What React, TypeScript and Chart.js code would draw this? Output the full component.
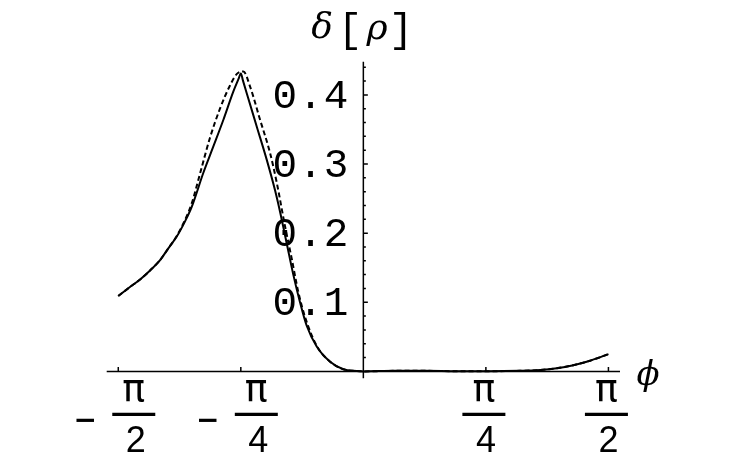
import { useEffect, useRef } from "react"
import { Chart, registerables } from "chart.js"

Chart.register(...registerables)

// curva continua
const solidPhi = [
  -1.571, -1.496, -1.431, -1.367, -1.303, -1.25, -1.196, -1.143, -1.1, -1.026, -0.962, -0.897,
  -0.833, -0.8, -0.785, -0.772, -0.747, -0.683, -0.619, -0.566, -0.534, -0.491, -0.449, -0.406,
  -0.363, -0.299, -0.213, -0.128, -0.042, 0, 0.2, 0.4, 0.6, 0.8, 1.0, 1.133, 1.24, 1.346, 1.453,
  1.571,
]
const solidDelta = [
  0.109, 0.122, 0.133, 0.146, 0.161, 0.178, 0.195, 0.217, 0.238, 0.287, 0.325, 0.364,
  0.405, 0.423, 0.431, 0.421, 0.402, 0.354, 0.306, 0.262, 0.231, 0.185, 0.14, 0.1,
  0.066, 0.036, 0.014, 0.003, 0.0006, 0, 0.0008, 0.0008, 0.0002, 0.0002, 0.0008, 0.002, 0.0045,
  0.009, 0.0155, 0.025,
]

// curva discontinua
const dashedPhi = [
  -1.571, -1.496, -1.431, -1.367, -1.303, -1.25, -1.196, -1.143, -1.1, -1.047, -0.983, -0.919,
  -0.854, -0.812, -0.769, -0.726, -0.662, -0.598, -0.555, -0.502, -0.459, -0.417, -0.374,
  -0.299, -0.213, -0.128, -0.042, 0, 0.2, 0.4, 0.6, 0.8, 1.0, 1.133, 1.24, 1.346, 1.453, 1.571,
]
const dashedDelta = [
  0.109, 0.122, 0.133, 0.146, 0.161, 0.178, 0.196, 0.219, 0.243, 0.286, 0.338, 0.38,
  0.414, 0.43, 0.434, 0.412, 0.364, 0.316, 0.273, 0.21, 0.163, 0.115, 0.079,
  0.037, 0.014, 0.003, 0.0006, 0, 0.0008, 0.0008, 0.0002, 0.0002, 0.0008, 0.002, 0.0045, 0.009,
  0.0155, 0.025,
]

const yMajorTicks = [0.1, 0.2, 0.3, 0.4]
const yTickLabels = ["0.1", "0.2", "0.3", "0.4"]
const yMinorTicks = [
  0.02, 0.04, 0.06, 0.08, 0.12, 0.14, 0.16, 0.18, 0.22, 0.24, 0.26, 0.28,
  0.32, 0.34, 0.36, 0.38, 0.42, 0.44,
]
const xTicks = [-Math.PI / 2, -Math.PI / 4, Math.PI / 4, Math.PI / 2]
const xTickSigns = ["−", "−", "", ""]
const xTickNumerators = ["π", "π", "π", "π"]
const xTickDenominators = ["2", "4", "4", "2"]

const xAxisLabel = "ϕ"
const titleParts = ["δ", "[", "ρ", "]"]

const mathAxes = {
  id: "mathAxes",
  beforeDatasetsDraw(chart: any) {
    const { ctx, chartArea: a, scales } = chart
    const x0 = scales.x.getPixelForValue(0)
    const y0 = scales.y.getPixelForValue(0)
    ctx.save()
    ctx.strokeStyle = "#000"
    ctx.lineWidth = 1.5
    ctx.beginPath()
    ctx.moveTo(a.left, y0)
    ctx.lineTo(a.right, y0)
    ctx.moveTo(x0, a.top)
    ctx.lineTo(x0, a.bottom)
    // marcas del eje y (hacia la derecha)
    yMajorTicks.forEach((v) => {
      const py = scales.y.getPixelForValue(v)
      ctx.moveTo(x0, py)
      ctx.lineTo(x0 + 4.5, py)
    })
    yMinorTicks.forEach((v) => {
      const py = scales.y.getPixelForValue(v)
      ctx.moveTo(x0, py)
      ctx.lineTo(x0 + 2.5, py)
    })
    // marcas del eje x (hacia arriba)
    xTicks.forEach((v) => {
      const px = scales.x.getPixelForValue(v)
      ctx.moveTo(px, y0)
      ctx.lineTo(px, y0 - 4.5)
    })
    ctx.stroke()
    ctx.restore()
  },
  afterDatasetsDraw(chart: any) {
    const { ctx, scales } = chart
    const x0 = scales.x.getPixelForValue(0)
    const y0 = scales.y.getPixelForValue(0)
    ctx.save()
    ctx.fillStyle = "#000"
    ctx.strokeStyle = "#000"

    // etiquetas del eje y
    ctx.font = "41px 'Liberation Mono'"
    ctx.textAlign = "right"
    ctx.textBaseline = "middle"
    ;(ctx as any).letterSpacing = "1px"
    yMajorTicks.forEach((v, i) => {
      ctx.fillText(yTickLabels[i], x0 - 14, scales.y.getPixelForValue(v) + 2)
    })
    ;(ctx as any).letterSpacing = "0px"

    // etiquetas del eje x en forma de fracción
    xTicks.forEach((v, i) => {
      const px = scales.x.getPixelForValue(v)
      const cx = xTickSigns[i] ? px + 15.5 : px - 2
      ctx.textAlign = "center"
      ctx.textBaseline = "alphabetic"
      if (xTickSigns[i]) {
        ctx.font = "bold 28px 'DejaVu Sans'"
        ctx.fillText(xTickSigns[i], px - 33, y0 + 58)
      }
      ctx.font = "38px 'DejaVu Sans'"
      ctx.fillText(xTickNumerators[i], cx, y0 + 30)
      ctx.lineWidth = 3.3
      ctx.beginPath()
      ctx.moveTo(cx - 21.5, y0 + 43)
      ctx.lineTo(cx + 21.5, y0 + 43)
      ctx.stroke()
      ctx.font = "36px 'Liberation Sans'"
      ctx.fillText(xTickDenominators[i], cx + 2, y0 + 80.5)
    })

    // nombre del eje x
    ctx.font = "italic 34px 'DejaVu Serif'"
    ctx.textAlign = "center"
    ctx.fillText(xAxisLabel, 648, y0 + 14)

    // título del eje y
    ctx.font = "italic 36px 'DejaVu Serif'"
    ctx.fillText(titleParts[0], 322, 38)
    ctx.font = "41px 'Liberation Mono'"
    ctx.fillText(titleParts[1], 350, 42)
    ctx.font = "italic 36px 'DejaVu Serif'"
    ctx.fillText(titleParts[2], 377, 39)
    ctx.font = "41px 'Liberation Mono'"
    ctx.fillText(titleParts[3], 401, 42)
    ctx.restore()
  },
}

export default function App() {
  const chartRef = useRef<HTMLCanvasElement>(null)
  const chartInstance = useRef<Chart | null>(null)

  useEffect(() => {
    if (!chartRef.current) return
    if (chartInstance.current) {
      chartInstance.current.destroy()
    }
    const ctx = chartRef.current.getContext("2d")
    if (!ctx) return

    chartInstance.current = new Chart(ctx, {
      type: "line",
      data: {
        datasets: [
          {
            label: "solid",
            data: solidPhi.map((x, i) => ({ x, y: solidDelta[i] })),
            borderColor: "#000",
            borderWidth: 2,
            pointRadius: 0,
            cubicInterpolationMode: "monotone",
            fill: false,
          },
          {
            label: "dashed",
            data: dashedPhi.map((x, i) => ({ x, y: dashedDelta[i] })),
            borderColor: "#000",
            borderWidth: 2,
            borderDash: [5, 3],
            pointRadius: 0,
            cubicInterpolationMode: "monotone",
            fill: false,
          },
        ],
      },
      options: {
        animation: false,
        responsive: true,
        maintainAspectRatio: false,
        layout: {
          padding: { left: 106.7, right: 119, top: 61.7, bottom: 78.7 },
        },
        scales: {
          x: { type: "linear", min: -1.645, max: 1.645, display: false },
          y: { type: "linear", min: -0.01, max: 0.448, display: false },
        },
        plugins: {
          legend: { display: false },
          tooltip: { enabled: false },
        },
      },
      plugins: [mathAxes],
    })

    return () => {
      if (chartInstance.current) {
        chartInstance.current.destroy()
      }
    }
  }, [])

  return (
    <div style={{ position: "absolute", left: 0, top: 0, width: 739, height: 457, background: "#fff" }}>
      <canvas ref={chartRef} />
    </div>
  )
}
